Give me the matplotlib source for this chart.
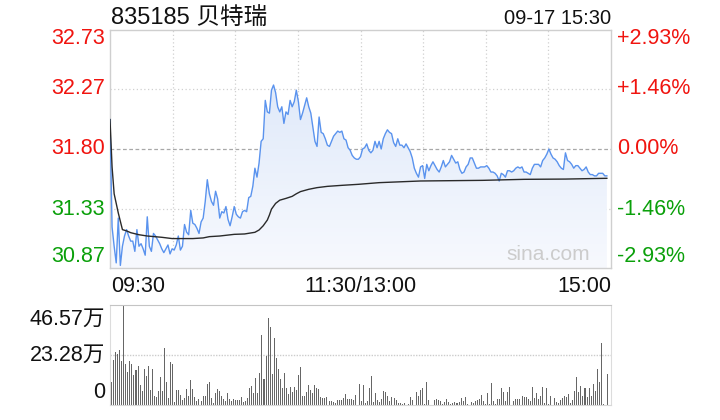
import numpy as np
import matplotlib
matplotlib.use('Agg')
import matplotlib.pyplot as plt
from matplotlib.patches import PathPatch
from matplotlib.colors import LinearSegmentedColormap

plt.rcParams['font.family'] = ['Liberation Sans', 'Noto Sans CJK SC', 'DejaVu Sans']

RED = '#f0140f'
GREEN = '#0aa00a'

title = "835185 贝特瑞"
stamp = "09-17 15:30"
price_ticks = [32.73, 32.27, 31.80, 31.33, 30.87]
price_labels = ["32.73", "32.27", "31.80", "31.33", "30.87"]
pct_labels = ["+2.93%", "+1.46%", "0.00%", "-1.46%", "-2.93%"]
label_colors = [RED, RED, RED, GREEN, GREEN]
time_labels = ["09:30", "11:30/13:00", "15:00"]
vol_ticks = [46.57, 23.28, 0]
vol_labels = ["46.57万", "23.28万", "0"]
prev_close = 31.80

price = [
    32.03, 31.19, 31.04, 30.91, 31.26, 30.89, 31.04, 31.12, 31.17, 31.12,
    31.08, 31.08, 31.00, 31.17, 31.04, 31.06, 31.02, 30.97, 31.27, 31.04,
    31.00, 31.14, 31.12, 31.09, 31.06, 31.02, 30.99, 31.02, 31.05, 30.98,
    31.02, 31.01, 31.05, 31.12, 31.01, 31.04, 31.21, 31.15, 31.13, 31.32,
    31.22, 31.21, 31.18, 31.14, 31.23, 31.26, 31.39, 31.56, 31.45, 31.39,
    31.36, 31.47, 31.41, 31.26, 31.31, 31.30, 31.35, 31.25, 31.20, 31.27,
    31.35, 31.29, 31.27, 31.26, 31.31, 31.32, 31.31, 31.42, 31.43, 31.51,
    31.65, 31.58, 31.69, 31.86, 31.88, 32.18, 32.09, 32.08, 32.26, 32.30,
    32.24, 32.13, 32.09, 32.13, 32.00, 32.09, 32.07, 32.18, 32.13, 32.17,
    32.26, 32.17, 32.03, 32.08, 32.14, 32.20, 32.13, 32.08, 31.97, 31.86,
    31.82, 32.05, 31.93, 31.92, 31.88, 31.83, 31.82, 31.86, 31.90, 31.92,
    31.94, 31.93, 31.94, 31.88, 31.87, 31.81, 31.79, 31.75, 31.73, 31.72,
    31.72, 31.74, 31.80, 31.81, 31.84, 31.79, 31.77, 31.79, 31.86, 31.81,
    31.86, 31.80, 31.88, 31.92, 31.95, 31.93, 31.92, 31.85, 31.82, 31.88,
    31.83, 31.83, 31.81, 31.84, 31.81, 31.78, 31.73, 31.65, 31.61, 31.58,
    31.66, 31.67, 31.57, 31.68, 31.63, 31.67, 31.70, 31.67, 31.64, 31.62,
    31.66, 31.71, 31.66, 31.68, 31.70, 31.75, 31.72, 31.69, 31.70, 31.64,
    31.61, 31.62, 31.66, 31.68, 31.73, 31.73, 31.69, 31.65, 31.65, 31.66,
    31.66, 31.66, 31.67, 31.65, 31.62, 31.62, 31.61, 31.59, 31.55, 31.61,
    31.60, 31.58, 31.63, 31.63, 31.62, 31.63, 31.65, 31.66, 31.65, 31.66,
    31.62, 31.62, 31.61, 31.60, 31.65, 31.68, 31.68, 31.68, 31.66, 31.71,
    31.73, 31.76, 31.80, 31.76, 31.73, 31.72, 31.70, 31.67, 31.65, 31.64,
    31.77, 31.71, 31.70, 31.68, 31.65, 31.67, 31.67, 31.65, 31.63, 31.64,
    31.66, 31.62, 31.60, 31.60, 31.59, 31.59, 31.61, 31.61, 31.61, 31.59,
    31.59,
]

avg_minutes = [0, 1, 2, 4, 6, 8, 10, 14, 18, 25, 30, 35, 40, 45, 48, 53, 60,
               65, 70, 72, 74, 76, 77, 78, 80, 82, 85, 88, 90, 92, 96, 100,
               105, 112, 120, 130, 150, 180, 200, 220, 240]
avg_price = [32.03, 31.66, 31.45, 31.30, 31.17, 31.16, 31.146, 31.13, 31.12,
             31.11, 31.10, 31.10, 31.10, 31.105, 31.115, 31.12, 31.133,
             31.136, 31.149, 31.167, 31.20, 31.245, 31.284, 31.33, 31.375,
             31.40, 31.414, 31.43, 31.45, 31.467, 31.485, 31.498, 31.508,
             31.516, 31.524, 31.537, 31.55, 31.555, 31.563, 31.565, 31.571]

volume = [  # 万
    10.63, 20.79, 24.69, 23.60, 25.47, 20.32, 46.57, 18.91, 15.32, 20.32,
    18.91, 13.75, 16.10, 17.97, 9.53, 6.72, 16.57, 13.28, 17.97, 7.19,
    16.57, 4.38, 3.91, 6.72, 12.81, 6.72, 26.41, 10.94, 3.44, 19.85,
    18.91, 1.56, 7.19, 7.19, 4.84, 2.50, 3.44, 7.66, 4.38, 11.41,
    7.66, 3.91, 2.03, 2.97, 2.03, 4.38, 4.38, 10.00, 10.94, 3.44,
    1.09, 5.78, 7.66, 6.72, 4.38, 2.97, 2.03, 5.78, 2.97, 2.03,
    2.97, 2.50, 2.50, 2.50, 3.91, 1.56, 2.03, 3.44, 8.13, 9.06,
    5.78, 12.35, 5.78, 14.69, 32.51, 11.88, 22.66, 40.32, 36.41, 14.22,
    31.10, 21.72, 16.57, 11.88, 8.13, 14.69, 8.13, 5.31, 8.60, 6.25,
    8.60, 7.19, 13.75, 17.50, 4.38, 4.38, 6.25, 9.53, 7.19, 5.78,
    9.53, 8.13, 7.66, 3.91, 3.44, 3.44, 3.91, 2.03, 2.03, 1.56,
    1.09, 2.50, 2.50, 2.50, 3.44, 5.31, 2.97, 2.97, 2.97, 2.50,
    4.84,
    0.16, 10.00, 2.03, 9.53, 1.09, 2.03, 8.13, 13.28, 1.56, 5.78,
    2.50, 1.56, 2.97, 6.72, 6.25, 4.38, 2.03, 3.91, 3.44, 2.50,
    1.09, 1.09, 0.63, 1.09, 0.16, 0.63, 3.91, 2.50, 0.16, 6.25,
    4.38, 7.19, 8.13, 0.63, 10.94, 2.50, 0.16, 0.16, 2.50, 2.97,
    2.50, 2.03, 0.63, 1.56, 2.97, 1.56, 0.63, 1.09, 1.56, 1.09,
    1.56, 3.44, 2.03, 3.91, 0.63, 0.16, 1.56, 1.09, 2.03, 2.50,
    2.97, 4.84, 2.03, 0.63, 5.78, 0.63, 10.47, 2.03, 0.63, 2.97,
    2.97, 8.13, 6.25, 2.03, 6.25, 8.60, 0.16, 2.03, 2.97, 2.97,
    2.97, 4.38, 3.91, 3.91, 2.97, 2.03, 8.60, 3.44, 5.78, 2.97,
    4.38, 8.60, 1.09, 8.13, 0.63, 4.38, 0.16, 3.44, 1.56, 1.09,
    2.50, 3.44, 4.38, 3.91, 5.31, 1.09, 2.50, 6.72, 12.81, 6.25,
    9.06, 4.38, 8.13, 3.91, 8.13, 4.38, 10.00, 6.72, 16.57, 10.94,
    28.91, 0.63, 0.16, 14.22,
]

FS = 15.5
W, H = 720, 420
fig = plt.figure(figsize=(W / 100, H / 100), dpi=100)


def rect(x0, y0, x1, y1):
    return [x0 / W, 1 - y1 / H, (x1 - x0) / W, (y1 - y0) / H]


ax = fig.add_axes(rect(110, 30, 611, 268))
axv = fig.add_axes(rect(110, 305, 611, 405))

# ---------------- price panel ----------------
XMAX = 242
x = np.arange(len(price))
ymin, ymax = price_ticks[-1], price_ticks[0]
ax.set_xlim(0, XMAX)
ax.set_ylim(ymin, ymax)

poly = ax.fill_between(x, price, ymin, color='none', linewidth=0)
clip = PathPatch(poly.get_paths()[0], transform=ax.transData,
                 facecolor='none', edgecolor='none')
ax.add_patch(clip)
cmap = LinearSegmentedColormap.from_list('g', ['#f7f9fe', '#d9e5f8'])
grad = np.linspace(0, 1, 256).reshape(-1, 1)
im = ax.imshow(grad, extent=[0, XMAX, ymin, ymax], aspect='auto',
               origin='lower', cmap=cmap, zorder=1)
im.set_clip_path(clip)

for k in range(1, 8):
    ax.axvline(XMAX * k / 8, color='#d0d0d0', lw=0.9, ls=(0, (1, 2)), zorder=0)
for v in price_ticks[1:-1]:
    if v == prev_close:
        ax.axhline(v, color='#a8a8a8', lw=0.9, ls=(0, (3, 2)), zorder=0)
    else:
        ax.axhline(v, color='#d0d0d0', lw=0.9, ls=(0, (1, 2)), zorder=0)

ax.plot(x, price, color='#5a93ee', lw=1.0, zorder=3)
ax.plot(avg_minutes, avg_price, color='#2a2a2a', lw=1.0, zorder=3)

ax.set_xticks([])
ax.set_yticks([])
for s in ax.spines.values():
    s.set_color('#cfcfcf')
    s.set_linewidth(1)

offsets = [-9, 0, 0, 0, 11]
for v, lab, pct, c, dy in zip(price_ticks, price_labels, pct_labels,
                              label_colors, offsets):
    ax.annotate(lab, xy=(0, v), xycoords=('axes fraction', 'data'),
                xytext=(-5, dy), textcoords='offset pixels',
                ha='right', va='center', color=c, fontsize=FS)
    ax.annotate(pct, xy=(1, v), xycoords=('axes fraction', 'data'),
                xytext=(6, dy), textcoords='offset pixels',
                ha='left', va='center', color=c, fontsize=FS)

ax.text(0.875, 0.055, "sina.com", transform=ax.transAxes, color='#cccccc',
        fontsize=15, ha='center', va='center', zorder=2)

# time labels
for pos, lab, ha, dx in zip([0, 0.5, 1], time_labels,
                            ['left', 'center', 'right'], [1, 0, 0]):
    ax.annotate(lab, xy=(pos, 0), xycoords='axes fraction',
                xytext=(dx, -18), textcoords='offset pixels',
                ha=ha, va='center', color='#111111', fontsize=FS)

fig.text(111 / W, 1 - 18 / H, title, ha='left', va='center',
         fontsize=17, color='#111111')
fig.text(611 / W, 1 - 18 / H, stamp, ha='right', va='center',
         fontsize=14.5, color='#111111')

# ---------------- volume panel ----------------
n = len(volume)
xv = np.arange(n)
axv.bar(xv, volume, width=0.5, color='#666666', linewidth=0)
axv.set_xlim(-0.8, n + 0.8)
axv.set_ylim(0, vol_ticks[0])
axv.axhline(vol_ticks[1], color='#cccccc', lw=1, ls=(0, (1, 1)), zorder=0)
axv.set_xticks([])
axv.set_yticks([])
axv.spines['top'].set_color('#c4c4c4')
axv.spines['top'].set_linestyle((0, (1, 1)))
axv.spines['bottom'].set_color('#d8d8d8')
axv.spines['bottom'].set_linestyle((0, (1, 1)))
axv.spines['left'].set_color('#dcdcdc')
axv.spines['right'].set_color('#dcdcdc')

for v, lab, dy in zip(vol_ticks, vol_labels, [-14, 0, 12]):
    axv.annotate(lab, xy=(0, v), xycoords=('axes fraction', 'data'),
                 xytext=(-5, dy), textcoords='offset pixels',
                 ha='right', va='center', color='#111111', fontsize=FS)

fig.savefig('out.png', dpi=100)
